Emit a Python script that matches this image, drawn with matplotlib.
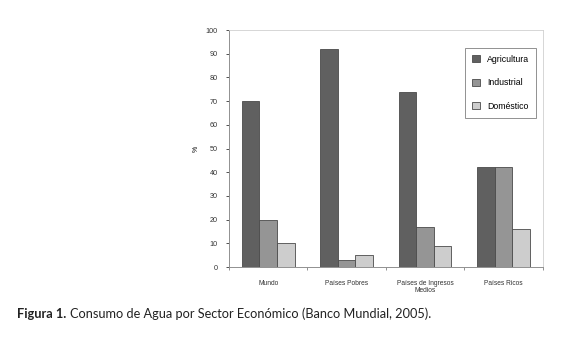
import matplotlib.pyplot as plt
import numpy as np

# Datos del gráfico
categorias = ["Mundo", "Países Pobres", "Países de Ingresos\nMedios", "Países Ricos"]
series = ["Agricultura", "Industrial", "Doméstico"]
agricultura = [70, 92, 74, 42]
industrial = [20, 3, 17, 42]
domestico = [10, 5, 9, 16]
colores = ["#606060", "#959595", "#cdcdcd"]
y_ticks = list(range(0, 101, 10))

plt.rcParams["font.family"] = ["Liberation Sans", "DejaVu Sans"]

fig = plt.figure(figsize=(5.79, 3.41), dpi=100)
ax = fig.add_axes([0.3955, 0.217, 0.5423, 0.695])

x = np.arange(len(categorias))
ancho = 0.223
valores = [agricultura, industrial, domestico]
for i, (nombre, vals) in enumerate(zip(series, valores)):
    ax.bar(x + (i - 1) * ancho, vals, ancho, color=colores[i],
           edgecolor="#4a4a4a", linewidth=0.6, label=nombre)

ax.set_xlim(-0.5, 3.5)
ax.set_ylim(0, 100)
ax.set_yticks(y_ticks)
ax.tick_params(axis="y", labelsize=5.2, length=2, width=0.6, pad=6, colors="#333333")
ax.set_xticks(x)
ax.set_xticklabels(categorias, fontsize=4.8, linespacing=1.1)
ax.set_xticks(np.arange(-0.5, 4.0, 1.0), minor=True)
ax.tick_params(axis="x", which="major", length=0, pad=9, colors="#333333")
ax.tick_params(axis="x", which="minor", length=2.5, width=0.6, color="#808080")
ax.set_ylabel("%", fontsize=5, labelpad=4)

for s in ["left", "bottom"]:
    ax.spines[s].set_color("#909090")
    ax.spines[s].set_linewidth(0.7)
for s in ["top", "right"]:
    ax.spines[s].set_color("#d0d0d0")
    ax.spines[s].set_linewidth(0.6)

leg = ax.legend(loc="upper right", bbox_to_anchor=(0.978, 0.925), fontsize=6.3,
                frameon=True, fancybox=False, edgecolor="#606060",
                labelspacing=1.65, handlelength=0.9, handleheight=0.9,
                handletextpad=0.8, borderpad=0.8, borderaxespad=0)
leg.get_frame().set_linewidth(0.6)

# Pie de figura
r = fig.canvas.get_renderer()
t1 = fig.text(0.03, 0.08, "Figura 1.", fontsize=9.2, fontweight="bold",
              family="Lato", color="#222222", va="center")
bb = t1.get_window_extent(renderer=r)
x2 = (bb.x1 + 3) / fig.bbox.width
fig.text(x2, 0.08, "Consumo de Agua por Sector Económico (Banco Mundial, 2005).",
         fontsize=9.2, family="Lato", color="#222222", va="center")

fig.savefig("out.png", dpi=100)
